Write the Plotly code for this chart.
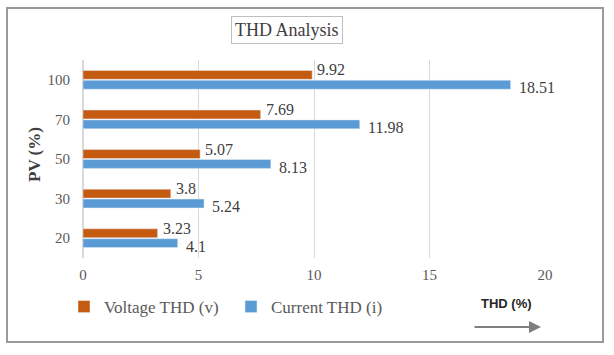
import plotly.graph_objects as go

categories = ["20", "30", "50", "70", "100"]
voltage_thd = [3.23, 3.8, 5.07, 7.69, 9.92]
current_thd = [4.1, 5.24, 8.13, 11.98, 18.51]
x_ticks = [0, 5, 10, 15, 20]

W, H = 614, 355
L, R, T, B = 83, 69, 60, 97
PW, PH = W - L - R, H - T - B

def px(x):
    return (x - L) / PW

def py(y):
    return (H - B - y) / PH

SERIF = "Liberation Serif, Times New Roman, serif"
ORANGE = "#C55A11"
BLUE = "#5B9BD5"
TXT = "#404040"

fig = go.Figure()
fig.add_trace(go.Bar(
    y=categories, x=current_thd, orientation="h", name="Current THD (i)",
    marker_color=BLUE,
))
fig.add_trace(go.Bar(
    y=categories, x=voltage_thd, orientation="h", name="Voltage THD (v)",
    marker_color=ORANGE,
))

# data labels, offset like the reference (y given as category index)
for i, v in enumerate(voltage_thd):
    fig.add_annotation(x=v, y=i, text=str(v), showarrow=False,
                       xanchor="left", yanchor="middle", xshift=3, yshift=10,
                       font=dict(family=SERIF, size=16, color=TXT))
for i, v in enumerate(current_thd):
    fig.add_annotation(x=v, y=i, text=str(v), showarrow=False,
                       xanchor="left", yanchor="middle", xshift=6, yshift=-8,
                       font=dict(family=SERIF, size=16, color=TXT))

fig.update_layout(
    width=W, height=H,
    margin=dict(l=L, r=R, t=T, b=B, autoexpand=False),
    paper_bgcolor="white", plot_bgcolor="white",
    barmode="group", bargap=0.5, bargroupgap=0.1,
    font=dict(family=SERIF, color="#595959"),
    showlegend=True,
    legend=dict(
        orientation="h", traceorder="reversed",
        x=px(64), xanchor="left", y=py(307), yanchor="middle",
        font=dict(family=SERIF, size=17, color="#595959"),
        itemwidth=30, entrywidth=122,
    ),
    xaxis=dict(
        type="linear",
        range=[0, 20], tickvals=x_ticks, showgrid=True, gridcolor="#D9D9D9",
        zeroline=True, zerolinecolor="#D9D9D9", showline=False,
        tickfont=dict(family=SERIF, size=15, color="#595959"),
        ticklabelstandoff=6, automargin=False,
    ),
    yaxis=dict(
        type="category",
        categoryorder="array", categoryarray=categories,
        range=[-0.5, len(categories) - 0.5],
        showgrid=False, showline=False, zeroline=False,
        tickfont=dict(family=SERIF, size=15, color="#595959"),
        ticklabelstandoff=12, automargin=False,
    ),
)

fig.add_shape(type="rect", xref="paper", yref="paper",
              x0=px(7), x1=px(603), y0=py(342), y1=py(8),
              line=dict(color="#9A9A9A", width=2), layer="below")

fig.add_annotation(text="THD Analysis", xref="paper", yref="paper",
                   x=px(287), y=py(30), xanchor="center", yanchor="middle",
                   showarrow=False,
                   font=dict(family=SERIF, size=18, color=TXT),
                   bordercolor="#BFBFBF", borderwidth=1, borderpad=3,
                   bgcolor="white")

fig.add_annotation(text="<b>PV (%)</b>", xref="paper", yref="paper",
                   x=px(34), y=py(155), xanchor="center", yanchor="middle",
                   showarrow=False, textangle=-90,
                   font=dict(family=SERIF, size=17, color=TXT))

fig.add_annotation(text="<b>THD (%)</b>", xref="paper", yref="paper",
                   x=px(506), y=py(303), xanchor="center", yanchor="middle",
                   showarrow=False,
                   font=dict(family="Liberation Sans, Arial, sans-serif", size=13, color="#262626"))

fig.add_annotation(text="", xref="paper", yref="paper",
                   x=px(541), y=py(327), ax=-68, ay=0,
                   showarrow=True, arrowhead=2, arrowsize=1.2, arrowwidth=2,
                   arrowcolor="#7F7F7F")

fig.write_html("out.html", config={"displayModeBar": False},
               post_script="document.body.style.margin='0';")
